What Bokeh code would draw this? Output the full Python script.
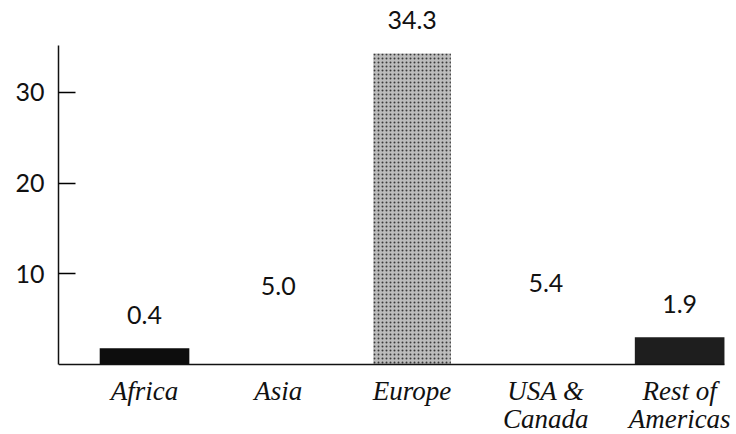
from bokeh.plotting import figure
from bokeh.models import ColumnDataSource, FixedTicker, Range1d, CDSView, IndexFilter
from bokeh.core.properties import value
from bokeh.embed import file_html
from bokeh.resources import INLINE

# ---- data ----
regions = ["Africa", "Asia", "Europe", "USA &\nCanada", "Rest of\nAmericas"]
values = [0.4, 5.0, 34.3, 5.4, 1.9]          # printed value labels
bar_heights = [1.8, 5.0, 34.3, 5.4, 3.0]     # heights of the bars as drawn
bar_colors = ["#0d0d0d", "#ffffff", "#b4b4b4", "#ffffff", "#1e1e1e"]
y_ticks = [10, 20, 30]

BAR_W = 0.67
X_START = -0.643

xs = list(range(len(regions)))
lines = [r.split("\n") for r in regions]
src = ColumnDataSource(dict(
    x=xs,
    top=bar_heights,
    zero=[0] * len(xs),
    color=bar_colors,
    label=[f"{v:.1f}" for v in values],
    line1=[l[0] for l in lines],
    line2=[l[1] if len(l) > 1 else "" for l in lines],
))

p = figure(width=736, height=434, output_backend="svg", toolbar_location=None,
           x_range=Range1d(X_START, 4.425), y_range=Range1d(-7.72, 39.03),
           min_border_left=58, min_border_top=10, min_border_right=0,
           min_border_bottom=0)
p.outline_line_color = None
p.xgrid.visible = False
p.ygrid.visible = False
p.xaxis.visible = False
p.background_fill_color = "white"

# bars (Europe stippled)
europe = [i for i in xs if regions[i] == "Europe"]
others = [i for i in xs if regions[i] != "Europe"]
p.vbar(x="x", top="top", bottom=0, width=BAR_W, source=src, fill_color="color",
       line_color=None, view=CDSView(filter=IndexFilter(others)))
p.vbar(x="x", top="top", bottom=0, width=0.58, source=src, fill_color="#bcbcbc",
       line_color=None, hatch_pattern="dot", hatch_color="#3a3a3a", hatch_scale=4,
       hatch_weight=1.4, view=CDSView(filter=IndexFilter(europe)))

# baseline (x axis line) from the y axis to the last bar's right edge
p.segment(x0=[X_START], y0=[0], x1=[xs[-1] + BAR_W / 2], y1=[0],
          line_color="#111111", line_width=1.5)

# value labels
p.text(x="x", y="top", text="label", source=src, text_align="center",
       text_baseline="middle", y_offset=-33, text_font=value("Lato"),
       text_font_size="25px", text_color="#111111")

# category labels (two rows)
for col, off in (("line1", 27), ("line2", 55)):
    p.text(x="x", y="zero", text=col, source=src, text_align="center",
           text_baseline="alphabetic", y_offset=off,
           text_font=value("Liberation Serif"), text_font_style="italic",
           text_font_size="27px", text_color="#111111")

# y axis
ya = p.yaxis[0]
ya.ticker = FixedTicker(ticks=y_ticks)
ya.bounds = (0, 35.2)
ya.axis_line_width = 1.5
ya.axis_line_color = "#111111"
ya.major_tick_in = 17
ya.major_tick_out = 0
ya.major_tick_line_width = 1.5
ya.minor_tick_line_color = None
ya.major_label_standoff = 14
ya.major_label_text_font = "Lato"
ya.major_label_text_font_size = "25px"
ya.major_label_text_color = "#111111"

open("out.html", "w").write(file_html(p, INLINE))
